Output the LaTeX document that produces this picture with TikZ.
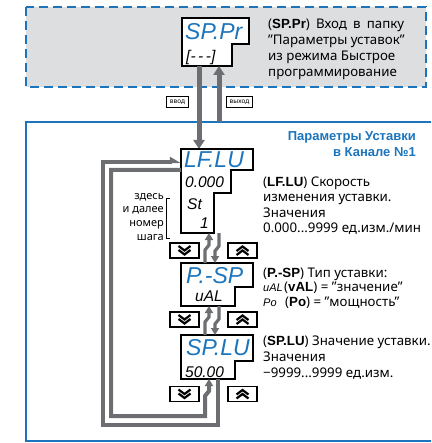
\documentclass[tikz,border=0pt]{standalone}
\usepackage{fontspec}
\setmainfont{Noto Sans}[BoldFont=LiberationSans-Bold]
\newfontfamily\segfont{Liberation Sans}
\usetikzlibrary{arrows.meta}

\definecolor{owenblue}{HTML}{1C75BC}
\definecolor{flowgray}{HTML}{6D6E71}
\definecolor{panelgray}{HTML}{DDDEDF}

\newcommand\keydown[1]{%
  \draw[chev] ([shift={(-6,-4.5)}]#1.center) -- ++(6,4.5) -- ++(6,-4.5)
              ([shift={(-6,-0.5)}]#1.center) -- ++(6,4.5) -- ++(6,-4.5);}
\newcommand\keyup[1]{%
  \draw[chev] ([shift={(-6,4.5)}]#1.center) -- ++(6,-4.5) -- ++(6,4.5)
              ([shift={(-6,0.5)}]#1.center) -- ++(6,-4.5) -- ++(6,4.5);}
\newcommand\segword[1]{{\segfont\itshape\fontsize{11}{11}\selectfont #1}}

\tikzset{
  disp/.style={draw, line width=1.3pt, fill=white, line join=miter},
  segtop/.style={inner sep=0pt, anchor=base west, text=owenblue,
    font=\segfont\fontsize{23}{23}\selectfont\itshape},
  segbot/.style={inner sep=0pt, anchor=base west,
    font=\segfont\fontsize{15.5}{15.5}\selectfont\itshape},
  btn/.style={draw, line width=1.2pt, minimum width=29pt, minimum height=15pt, inner sep=0pt},
  chev/.style={line width=2.2pt, line join=miter},
  modebox/.style={draw, line width=1pt, fill=white, minimum height=11pt, inner xsep=2pt,
    inner ysep=0pt, font=\fontsize{6.5}{7}\selectfont},
  flow/.style={draw=flowgray, line width=5pt, -{Triangle[length=9pt,width=11pt]}},
  bolt/.style={draw=flowgray, line width=3.2pt, line join=miter, -{Triangle[length=7pt,width=8pt]}},
  ret/.style={draw=flowgray, line width=4pt, line join=miter},
  note/.style={inner sep=0pt, anchor=north west, align=left,
    font=\fontsize{13.3}{16}\selectfont},
}

\begin{document}
\begin{tikzpicture}[x=1pt, y=-1pt]
  \useasboundingbox (0,0) rectangle (431,443);
  % 上の枠
  \fill[panelgray] (26,7) rectangle (426,87);
  \draw[owenblue, line width=1.8pt, dash pattern=on 9pt off 5pt] (26,7) rectangle (426,87);
  % 下の枠
  \draw[owenblue, line width=1.8pt] (431,122) -- (26,122) -- (26,441) -- (431,441);
  \node[note, anchor=north east, align=right, text=owenblue,
    font=\segfont\fontsize{13}{15.8}\selectfont\bfseries]
    (chan-title) at (416,131.5) {Параметры Уставки\\ в Канале №1};

  % SP.Pr
  \draw[disp] (182,18) -- (249,18) -- (249,44) -- (232,44) -- (232,66) -- (182,66) -- cycle;
  \node[segtop] (sppr-top) at (185,40) {SP.Pr};
  \node[segbot] (sppr-bot) at (186,62) {[-\,-\,-]};
  \node[note] (sppr-txt) at (268,18.5) {\makebox[136pt][s]{(\textbf{SP.Pr}) Вход в папку}\\
    "Параметры уставок"\\ из режима Быстрое\\ программирование};

  % ввод / выход
  \coordinate (sppr-out) at (199,66);
  \coordinate (lflu-in) at (199,149);
  \coordinate (chan-top) at (219,122);
  \coordinate (sppr-back) at (219,66);
  \draw[flow] (sppr-out) -- (lflu-in);
  \draw[flow] (chan-top) -- (sppr-back);
  \node[modebox, minimum width=21.6pt] (vvod) at (177.5,102.5) {ввод};
  \node[modebox, minimum width=25.6pt] (vyhod) at (239.5,102.5) {выход};

  % LF.LU
  \draw[disp] (181,149) -- (253,149) -- (253,170) -- (231,170) -- (231,193) -- (214,193)
    -- (214,233) -- (181,233) -- cycle;
  \node[segtop] (lflu-top) at (184,168) {LF.LU};
  \node[segbot] (lflu-val) at (185,188) {0.000};
  \node[segbot] (lflu-st) at (187,209) {St};
  \node[segbot] (lflu-num) at (200,228) {1};
  \node[note, font=\fontsize{13.3}{15.5}\selectfont] (lflu-txt) at (263,176.5) {(\textbf{LF.LU}) Скорость\\
    изменения уставки.\\ Значения\\ 0.000...9999 ед.изм./мин};
  \node[note, anchor=north east, align=right, font=\fontsize{11}{13.7}\selectfont]
    (step-txt) at (164,193) {здесь\\ и далее\\ номер\\ шага};
  \draw[line width=0.8pt] (170,198) -| (166,238) -- (170,238);

  % P.-SP
  \draw[disp] (181,263) -- (253,263) -- (253,287) -- (235,287) -- (235,306) -- (181,306) -- cycle;
  \node[segtop] (psp-top) at (186,283) {P.-SP};
  \node[segbot] (psp-val) at (195,301) {uAL};
  \node[note, font=\fontsize{13.3}{14.5}\selectfont] (psp-txt) at (263,267.5) {(\textbf{P.-SP}) Тип уставки:\\
    \makebox[21pt][l]{\segword{uAL}}(\textbf{vAL}) = "значение"\\
    \makebox[22pt][l]{\segword{Po}}(\textbf{Po}) = "мощность"};

  % SP.LU
  \draw[disp] (181,335) -- (253,335) -- (253,361) -- (235,361) -- (235,379) -- (181,379) -- cycle;
  \node[segtop] (splu-top) at (186,355) {SP.LU};
  \node[segbot] (splu-val) at (185,377) {50.00};
  \node[note] (splu-txt) at (263,335.5) {(\textbf{SP.LU}) Значение уставки.\\ Значения\\
    −9999...9999 ед.изм.};

  % кнопки
  \foreach \r/\y in {1/250.5, 2/319.5, 3/394} {
    \node[btn] (dn\r) at (184.5,\y) {};
    \node[btn] (up\r) at (242.5,\y) {};
    \keydown{dn\r}
    \keyup{up\r}
  }

  % переходы
  \coordinate (lflu-back) at (209,233);
  \coordinate (lflu-next) at (219,233);
  \coordinate (psp-prev) at (205,263);
  \coordinate (psp-in) at (215,263);
  \coordinate (psp-back) at (209,306);
  \coordinate (psp-next) at (219,306);
  \coordinate (splu-prev) at (205,335);
  \coordinate (splu-in) at (215,335);
  \coordinate (splu-back) at (209,379);
  \coordinate (splu-next) at (218,379);
  \coordinate (lflu-loop) at (181,162);
  \coordinate (lflu-w) at (181,170);
  \draw[bolt] (psp-prev) -- ++(0,-13) -- ++(4,-5) -- (lflu-back);
  \draw[bolt] (lflu-next) -- ++(0,13) -- ++(-4,5) -- (psp-in);
  \draw[bolt] (splu-prev) -- ++(0,-13) -- ++(4,-5) -- (psp-back);
  \draw[bolt] (psp-next) -- ++(0,13) -- ++(-4,5) -- (splu-in);
  % петля
  \draw[ret, -{Triangle[harpoon, length=9pt, width=10pt]}] (splu-next) |- (103,425) |- (lflu-loop);
  \draw[ret, -{Triangle[length=7pt, width=8pt]}] (lflu-w) -| (111,416) -| (205,396)
    -- ++(4,-5) -- (splu-back);
\end{tikzpicture}
\end{document}
